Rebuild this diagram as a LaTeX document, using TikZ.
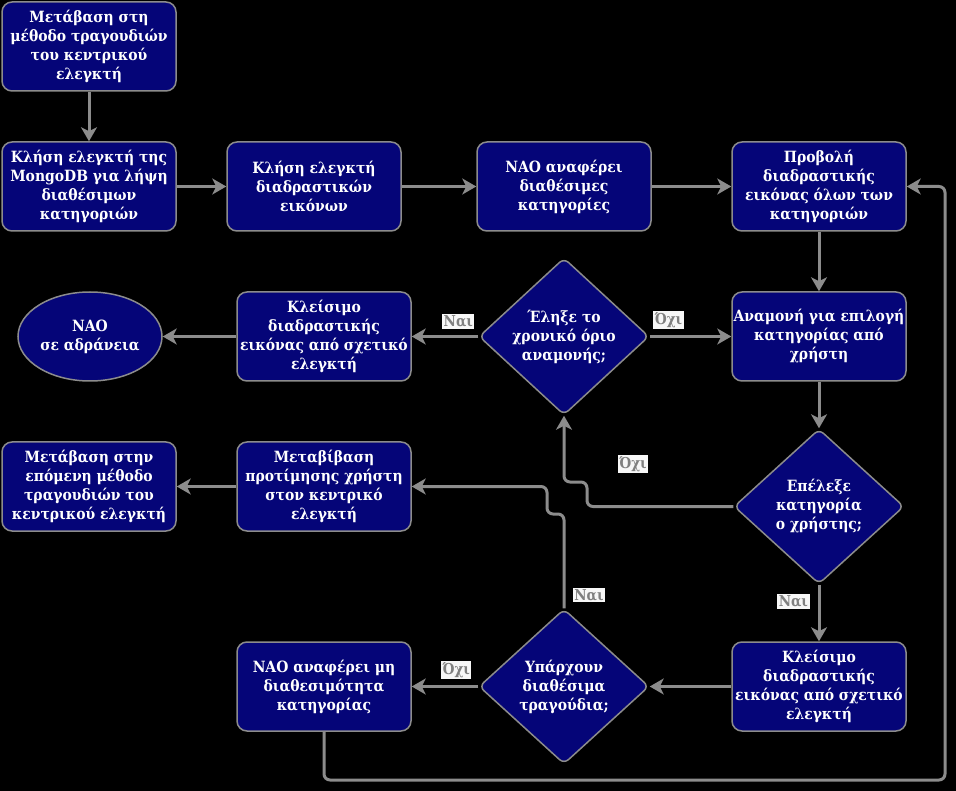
\documentclass[tikz,border=0pt]{standalone}
\usepackage{fontspec}
\setmainfont{DejaVu Serif Condensed}
\usetikzlibrary{shapes.geometric,arrows.meta}
\definecolor{navybox}{RGB}{5,5,120}
\definecolor{edgegray}{RGB}{140,140,140}

\begin{document}
\begin{tikzpicture}[x=1pt,y=-1pt,
    every node/.style={font=\bfseries\fontsize{15.5}{19}\selectfont, text=white},
    box/.style={draw=edgegray, line width=1.5pt, fill=navybox, rounded corners=10pt,
        minimum width=174pt, minimum height=89pt, inner sep=0pt, align=center},
    decision/.style={diamond, draw=edgegray, line width=1.5pt, fill=navybox, rounded corners=6pt,
        minimum width=170pt, minimum height=155pt, inner sep=0pt, align=center},
    idle/.style={ellipse, draw=edgegray, line width=1.5pt, fill=navybox,
        minimum width=144pt, minimum height=89pt, inner sep=0pt, align=center},
    flow/.style={draw=edgegray, line width=3pt, rounded corners=6pt,
        -{Stealth[length=14pt,width=16pt,inset=4pt]}},
    answer/.style={fill=white!94!gray, text=gray, inner sep=1.5pt, sharp corners,
        font=\bfseries\fontsize{15}{17}\selectfont}]
    % background
    \fill[black] (0,0) rectangle (956,791);

    %first row
    \node[box] (start) at (89,46.5) {Μετάβαση στη\\μέθοδο τραγουδιών\\του κεντρικού\\ελεγκτή};
    \node[box] (mongo) at (89,186.5) {Κλήση ελεγκτή της\\MongoDB για λήψη\\διαθέσιμων\\κατηγοριών};
    \node[box] (images) at (314,186.5) {Κλήση ελεγκτή\\διαδραστικών\\εικόνων};
    \node[box] (report) at (564,186.5) {NAO αναφέρει\\διαθέσιμες\\κατηγορίες};
    \node[box] (show) at (819,186.5) {Προβολή\\διαδραστικής\\εικόνας όλων των\\κατηγοριών};
    %second row
    \node[box] (wait) at (819,336.5) {Αναμονή για επιλογή\\κατηγορίας από\\χρήστη};
    \node[decision] (timeout) at (564,336.5) {Έληξε το\\χρονικό όριο\\αναμονής;};
    \node[box] (closeA) at (324,336.5) {Κλείσιμο\\διαδραστικής\\εικόνας από σχετικό\\ελεγκτή};
    \node[idle] (sleep) at (90,336.5) {NAO\\σε αδράνεια};
    %third row
    \node[decision] (chose) at (819,506.5) {Επέλεξε\\κατηγορία\\ο χρήστης;};
    \node[box] (pass) at (324,486.5) {Μεταβίβαση\\προτίμησης χρήστη\\στον κεντρικό\\ελεγκτή};
    \node[box] (next) at (89,486.5) {Μετάβαση στην\\επόμενη μέθοδο\\τραγουδιών του\\κεντρικού ελεγκτή};
    %fourth row
    \node[box] (closeB) at (819,686.5) {Κλείσιμο\\διαδραστικής\\εικόνας από σχετικό\\ελεγκτή};
    \node[decision] (songs) at (564,686.5) {Υπάρχουν\\διαθέσιμα\\τραγούδια;};
    \node[box] (nosongs) at (324,686.5) {NAO αναφέρει μη\\διαθεσιμότητα\\κατηγορίας};

    \coordinate (back) at (945,780);

    \draw[flow] (start) -- (mongo);
    \draw[flow] (mongo) -- (images);
    \draw[flow] (images) -- (report);
    \draw[flow] (report) -- (show);
    \draw[flow] (show) -- (wait);
    \draw[flow] (timeout) -- node[answer, pos=.23, above=6pt] {Όχι} (wait);
    \draw[flow] (timeout) -- node[answer, pos=.3, above=6pt] {Ναι} (closeA);
    \draw[flow] (closeA) -- (sleep);
    \draw[flow] (wait) -- (chose);
    \draw[flow] (chose.west) -- (587,506.5) -- (587,482) -- (564,482) -- (timeout.south);
    \node[answer] at (633,464) {Όχι};
    \draw[flow] (chose) -- node[answer, pos=.3, left=8pt] {Ναι} (closeB);
    \draw[flow] (closeB) -- (songs);
    \draw[flow] (songs.north) -- (564,514) -- (547,514) -- (547,486.5) -- (pass.east);
    \node[answer] at (589,595) {Ναι};
    \draw[flow] (songs) -- node[answer, pos=.33, above=6pt] {Όχι} (nosongs);
    \draw[flow] (pass) -- (next);
    \draw[flow] (nosongs.south) |- (back) |- (show.east);
\end{tikzpicture}
\end{document}
